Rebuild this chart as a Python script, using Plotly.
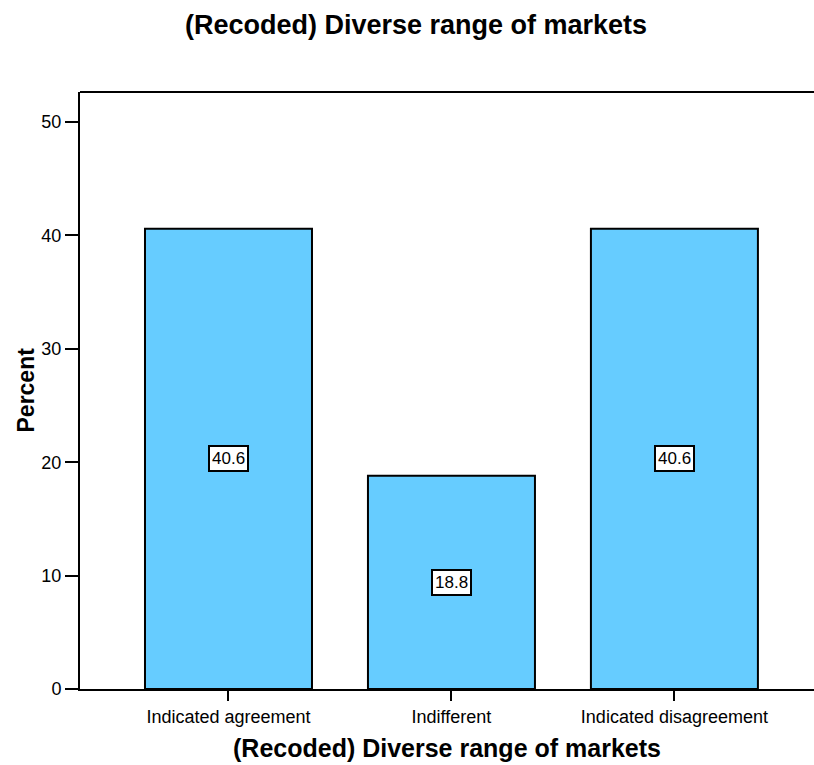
import plotly.graph_objects as go

# Recoded survey responses: diverse range of markets
categories = ["Indicated agreement", "Indifferent", "Indicated disagreement"]
percents = [40.6, 18.8, 40.6]
y_ticks = [0, 10, 20, 30, 40, 50]

FONT = "Liberation Sans, Arial, Helvetica, sans-serif"
BAR_FILL = "#66CCFF"

fig = go.Figure()
fig.add_trace(go.Bar(
    x=list(range(len(categories))),
    y=percents,
    width=0.749,
    marker=dict(color=BAR_FILL, line=dict(color="black", width=2)),
    hoverinfo="skip",
))

# Boxed value labels placed at the middle of each bar
for i, v in enumerate(percents):
    fig.add_annotation(
        x=i, y=v / 2, xref="x", yref="y",
        text=f"{v:.1f}", showarrow=False,
        font=dict(family=FONT, size=17, color="black"),
        bgcolor="white", bordercolor="black", borderwidth=2, borderpad=2,
    )

# Axis titles
fig.add_annotation(
    x=0.5, y=0, xref="paper", yref="paper", yshift=-59,
    text="<b>(Recoded) Diverse range of markets</b>", showarrow=False,
    font=dict(family=FONT, size=25, color="black"), yanchor="middle",
)
fig.add_annotation(
    x=0, y=0.5, xref="paper", yref="paper", xshift=-55,
    text="<b>Percent</b>", showarrow=False, textangle=-90,
    font=dict(family=FONT, size=23, color="black"),
    xanchor="center", yanchor="middle",
)

# Top border of the frame
fig.add_shape(type="line", xref="paper", yref="paper", x0=0, x1=1, y0=1, y1=1,
              line=dict(color="black", width=2))

fig.update_layout(
    width=814, height=765,
    margin=dict(l=80, r=0, t=92, b=76),
    paper_bgcolor="white", plot_bgcolor="white",
    showlegend=False,
    font=dict(family=FONT, color="black"),
    title=dict(
        text="<b>(Recoded) Diverse range of markets</b>",
        x=416 / 814, xref="container", xanchor="center",
        y=1 - 25 / 765, yref="container", yanchor="middle",
        font=dict(family=FONT, size=27, color="black"),
    ),
    xaxis=dict(
        range=[-0.666, 2.626],
        tickmode="array", tickvals=list(range(len(categories))), ticktext=categories,
        ticks="outside", ticklen=10, tickwidth=2, tickcolor="black",
        showline=True, linecolor="black", linewidth=2,
        showgrid=False, zeroline=False,
        tickfont=dict(family=FONT, size=18, color="black"),
    ),
    yaxis=dict(
        range=[0, 52.65],
        tickmode="array", tickvals=y_ticks,
        ticks="outside", ticklen=13, tickwidth=2, tickcolor="black",
        showline=True, linecolor="black", linewidth=2,
        showgrid=False, zeroline=False,
        tickfont=dict(family=FONT, size=18, color="black"),
    ),
)

fig.write_html("out.html")
